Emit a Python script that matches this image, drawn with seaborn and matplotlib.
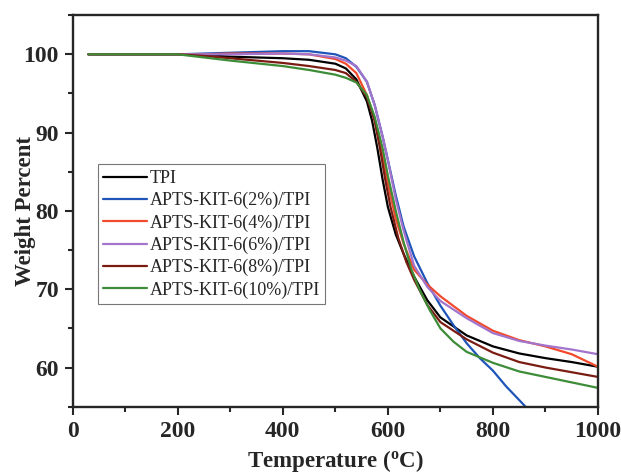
import pandas as pd
import seaborn as sns
import matplotlib.pyplot as plt
from matplotlib.ticker import MultipleLocator

# TGA curves
t_tpi = [30, 200, 250, 300, 400, 450, 500, 520, 540, 560, 570, 580, 590, 600, 615, 630, 650, 675, 700, 750, 800, 850, 900, 950, 1000]
w_tpi = [100, 100, 99.9, 99.7, 99.5, 99.3, 98.8, 98.2, 96.8, 94.0, 91.5, 88.0, 84.0, 80.5, 77.0, 74.5, 71.6, 68.6, 66.4, 64.1, 62.7, 61.8, 61.2, 60.7, 60.1]

t_2 = [30, 200, 250, 300, 400, 450, 500, 520, 540, 560, 575, 590, 600, 615, 630, 650, 675, 700, 725, 750, 775, 800, 825, 845, 862]
w_2 = [100, 100, 100.1, 100.2, 100.4, 100.4, 100.0, 99.5, 98.4, 96.5, 93.5, 89.5, 86.5, 82.0, 78.0, 74.2, 70.8, 67.9, 65.4, 63.1, 61.2, 59.6, 57.6, 56.2, 55.0]

t_4 = [30, 200, 250, 300, 400, 450, 500, 520, 540, 560, 575, 590, 600, 615, 630, 650, 675, 700, 750, 800, 850, 900, 950, 1000]
w_4 = [100, 100, 100.0, 100.1, 100.1, 100.0, 99.4, 98.8, 97.6, 94.8, 91.5, 87.0, 83.5, 79.0, 75.8, 72.5, 70.6, 69.1, 66.6, 64.7, 63.5, 62.7, 61.7, 60.1]

t_6 = [30, 200, 250, 300, 400, 450, 500, 520, 540, 560, 575, 590, 600, 615, 630, 650, 675, 700, 750, 800, 850, 900, 950, 1000]
w_6 = [100, 100, 100.0, 100.0, 100.1, 100.0, 99.6, 99.2, 98.5, 96.5, 93.5, 89.5, 86.5, 81.5, 77.5, 73.0, 70.3, 68.5, 66.3, 64.4, 63.4, 62.8, 62.3, 61.7]

t_8 = [30, 200, 250, 300, 400, 450, 500, 520, 540, 560, 575, 585, 595, 605, 620, 635, 650, 675, 700, 750, 800, 850, 900, 950, 1000]
w_8 = [100, 100, 99.8, 99.5, 98.9, 98.5, 98.0, 97.6, 96.5, 94.5, 91.5, 88.0, 84.0, 80.5, 76.5, 73.5, 71.2, 68.0, 65.8, 63.6, 61.9, 60.7, 60.0, 59.4, 58.8]

t_10 = [30, 200, 250, 300, 400, 450, 500, 520, 540, 560, 575, 590, 600, 615, 630, 645, 660, 680, 700, 725, 750, 800, 850, 900, 950, 1000]
w_10 = [100, 100, 99.6, 99.2, 98.5, 98.0, 97.4, 97.0, 96.4, 94.8, 92.0, 88.0, 84.5, 80.0, 76.0, 72.5, 70.0, 67.3, 65.0, 63.3, 62.0, 60.6, 59.5, 58.8, 58.1, 57.4]

labels = ['TPI', 'APTS-KIT-6(2%)/TPI', 'APTS-KIT-6(4%)/TPI',
          'APTS-KIT-6(6%)/TPI', 'APTS-KIT-6(8%)/TPI', 'APTS-KIT-6(10%)/TPI']
colors = ['#000000', '#1f55b8', '#f24a2c', '#a274cc', '#7a1c12', '#3d8c38']
temps = [t_tpi, t_2, t_4, t_6, t_8, t_10]
weights = [w_tpi, w_2, w_4, w_6, w_8, w_10]

sns.set_style('ticks')
plt.rcParams['font.family'] = ['Liberation Serif', 'DejaVu Serif']

fig = plt.figure(figsize=(6.21, 4.74), dpi=100)
ax = fig.add_axes([0.117, 0.142, 0.846, 0.826])

for t, w, lab, c in zip(temps, weights, labels, colors):
    df = pd.DataFrame({'Temperature': t, 'Weight': w})
    sns.lineplot(data=df, x='Temperature', y='Weight', color=c, label=lab,
                 linewidth=1.6, ax=ax)

ax.set_xlim(0, 1000)
ax.set_ylim(55, 105)
ax.xaxis.set_major_locator(MultipleLocator(200))
ax.xaxis.set_minor_locator(MultipleLocator(100))
ax.yaxis.set_major_locator(MultipleLocator(10))
ax.yaxis.set_minor_locator(MultipleLocator(5))
ax.tick_params(which='major', direction='out', length=6, width=1.5,
               labelsize=17, top=False, right=False, pad=4)
ax.tick_params(which='minor', direction='out', length=3.5, width=1.5,
               top=False, right=False)
for lbl in ax.get_xticklabels() + ax.get_yticklabels():
    lbl.set_fontweight('bold')
for s in ax.spines.values():
    s.set_linewidth(1.7)
    s.set_visible(True)

ax.set_xlabel('Temperature ($\\mathregular{^{o}}$C)', fontsize=16.5, fontweight='bold')
ax.set_ylabel('Weight Percent', fontsize=16.5, fontweight='bold')
ax.xaxis.set_label_coords(0.5, -0.105)
ax.yaxis.set_label_coords(-0.07, 0.5)

leg = ax.legend(loc='lower left', bbox_to_anchor=(0.048, 0.262), borderaxespad=0,
                fontsize=13, handlelength=2.4, handletextpad=0.15,
                labelspacing=0.28, borderpad=0.3, fancybox=False, frameon=True)
leg.get_frame().set_edgecolor('#555555')
leg.get_frame().set_linewidth(0.8)

fig.savefig('out.png', dpi=100)
